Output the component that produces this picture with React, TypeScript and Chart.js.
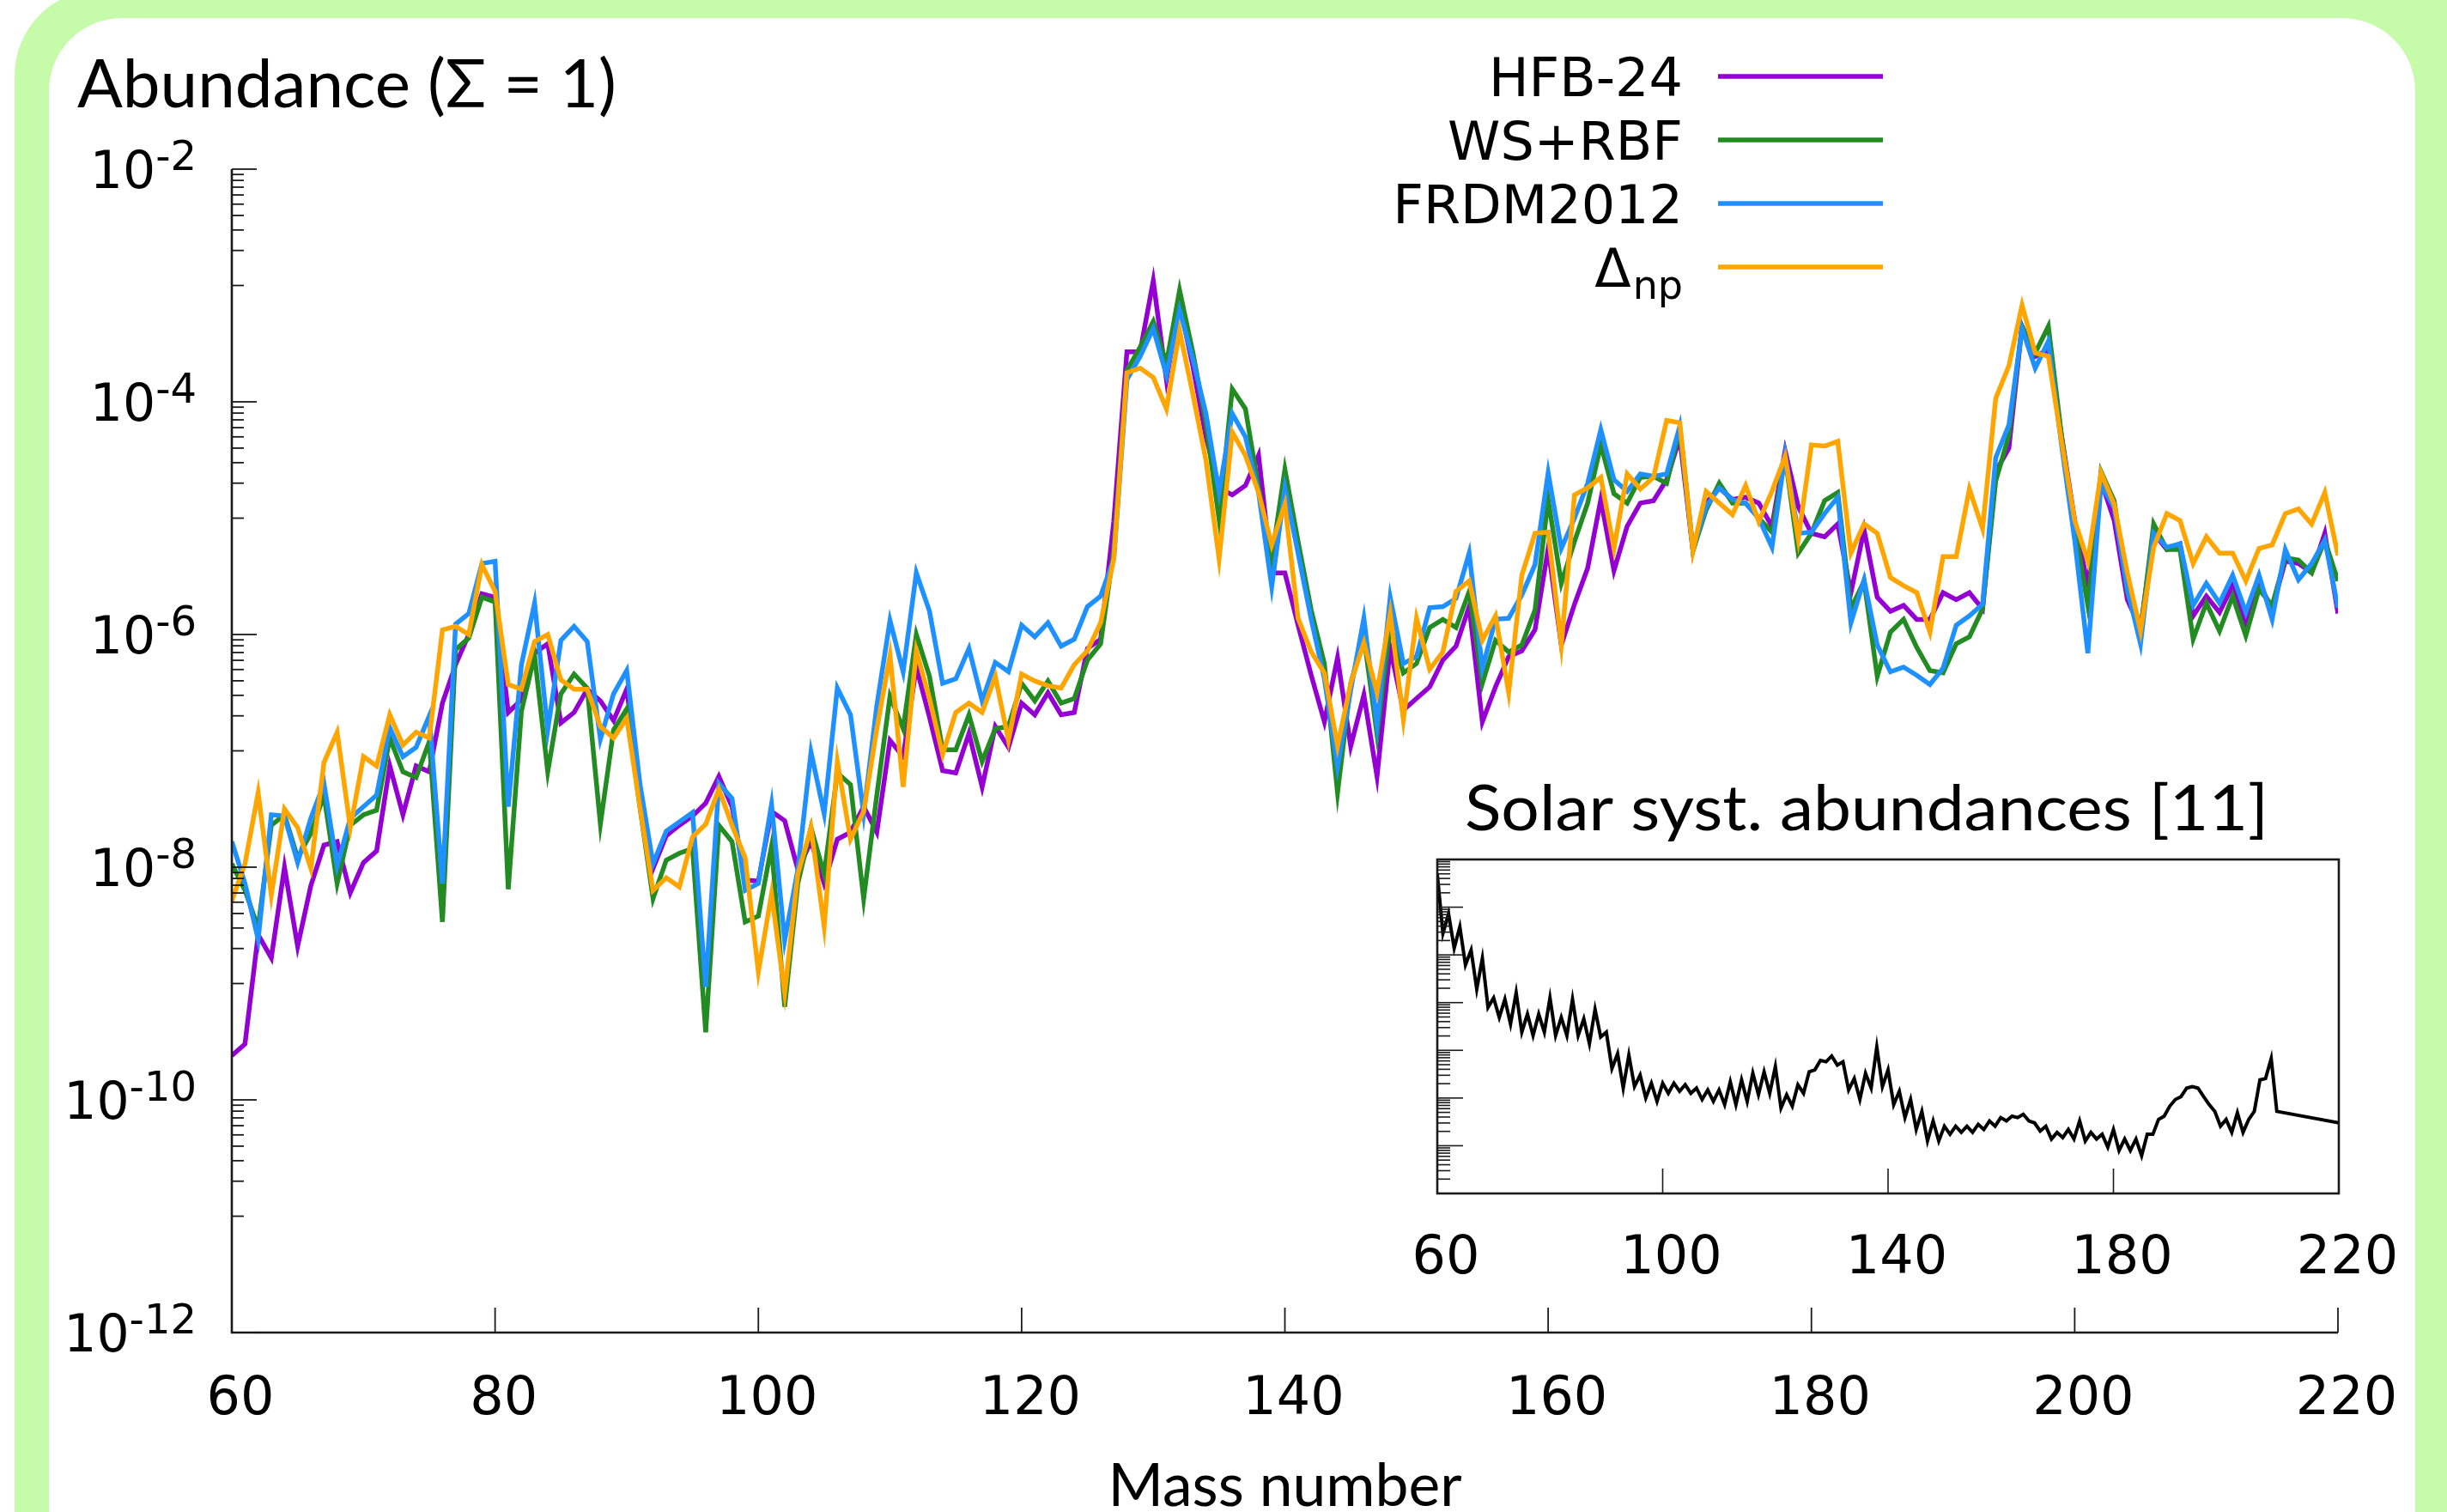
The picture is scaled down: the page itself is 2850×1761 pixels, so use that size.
import React, { useEffect, useRef } from "react";
import { Chart, registerables } from "chart.js";

Chart.register(...registerables);

// ---------------- data (log10 of abundance, mass numbers 60..220) ----------------
const A_START = 60;

const hfb24Log = [
  -9.62, -9.52, -8.58, -8.78, -8.0, -8.68, -8.16, -7.81, -7.78, -8.22,
  -7.96, -7.86, -7.13, -7.55, -7.13, -7.18, -6.59, -6.26, -6.0, -5.65,
  -5.68, -6.67, -6.56, -6.16, -6.08, -6.76, -6.67, -6.47, -6.57, -6.74,
  -6.47, -7.31, -8.01, -7.73, -7.64, -7.56, -7.45, -7.22, -7.48, -8.11,
  -8.12, -7.52, -7.6, -8.02, -7.78, -8.14, -7.76, -7.7, -7.48, -7.7,
  -6.91, -7.05, -6.28, -6.71, -7.17, -7.19, -6.85, -7.31, -6.79, -6.97,
  -6.59, -6.69, -6.5, -6.69, -6.67, -6.12, -6.04, -5.03, -3.57, -3.57,
  -2.96, -3.81, -3.16, -3.69, -4.3, -4.74, -4.8, -4.72, -4.46, -5.47,
  -5.47, -5.92, -6.35, -6.75, -6.2, -6.96, -6.52, -7.22, -6.12, -6.65,
  -6.55, -6.45, -6.22, -6.1, -5.76, -6.75, -6.45, -6.19, -6.14, -5.96,
  -5.26, -6.09, -5.74, -5.43, -4.84, -5.45, -5.07, -4.87, -4.85, -4.67,
  -4.31, -5.28, -4.87, -4.74, -4.84, -4.82, -4.87, -5.07, -4.42, -4.9,
  -5.13, -5.16, -5.05, -5.64, -5.1, -5.68, -5.8, -5.75, -5.87, -5.87,
  -5.64, -5.7, -5.64, -5.78, -4.6, -4.4, -3.35, -3.61, -3.55, -4.29,
  -5.02, -5.58, -4.68, -5.02, -5.7, -5.95, -5.13, -5.27, -5.22, -5.84,
  -5.67, -5.81, -5.58, -5.92, -5.56, -5.78, -5.37, -5.39, -5.47, -5.13,
  -5.82,
];

const wsRbfLog = [
  -7.97, -8.2, -8.52, -7.64, -7.55, -7.92, -7.71, -7.38, -8.14, -7.64,
  -7.55, -7.51, -6.89, -7.18, -7.23, -6.92, -8.47, -6.13, -6.03, -5.68,
  -5.72, -8.19, -6.66, -6.18, -7.18, -6.51, -6.34, -6.46, -7.63, -6.82,
  -6.64, -7.48, -8.27, -7.94, -7.88, -7.84, -9.42, -7.64, -7.78, -8.47,
  -8.42, -7.82, -9.2, -8.14, -7.66, -8.06, -7.19, -7.29, -8.27, -7.38,
  -6.53, -6.81, -6.0, -6.36, -6.99, -6.99, -6.69, -7.09, -6.81, -6.79,
  -6.42, -6.57, -6.4, -6.59, -6.55, -6.22, -6.08, -5.27, -3.73, -3.53,
  -3.31, -3.67, -3.04, -3.57, -4.18, -5.01, -3.89, -4.06, -4.74, -5.35,
  -4.58, -5.2, -5.79, -6.25, -7.36, -6.42, -6.02, -6.86, -5.92, -6.33,
  -6.25, -5.94, -5.87, -5.94, -5.63, -6.42, -6.05, -6.15, -6.09, -5.79,
  -4.84, -5.56, -5.2, -4.87, -4.37, -4.79, -4.87, -4.65, -4.64, -4.7,
  -4.24, -5.28, -4.93, -4.7, -4.87, -4.87, -5.0, -5.12, -4.47, -5.3,
  -5.13, -4.85, -4.78, -5.78, -5.54, -6.36, -5.98, -5.87, -6.11, -6.31,
  -6.33, -6.08, -6.02, -5.78, -4.68, -4.29, -3.35, -3.58, -3.35, -4.29,
  -5.08, -5.75, -4.6, -4.85, -5.64, -5.98, -5.05, -5.27, -5.27, -6.04,
  -5.73, -5.97, -5.67, -6.01, -5.61, -5.75, -5.34, -5.36, -5.47, -5.19,
  -5.54,
];

const frdm2012Log = [
  -7.78, -8.14, -8.62, -7.55, -7.56, -7.96, -7.58, -7.28, -7.99, -7.58,
  -7.48, -7.38, -6.8, -7.05, -6.97, -6.7, -8.14, -5.91, -5.82, -5.39,
  -5.37, -7.48, -6.26, -5.73, -6.82, -6.05, -5.93, -6.06, -6.9, -6.51,
  -6.31, -7.28, -7.97, -7.69, -7.61, -7.53, -9.03, -7.28, -7.41, -8.2,
  -8.14, -7.46, -8.63, -8.02, -7.01, -7.54, -6.46, -6.69, -7.54, -6.61,
  -5.88, -6.32, -5.47, -5.8, -6.42, -6.38, -6.12, -6.57, -6.24, -6.32,
  -5.92, -6.02, -5.9, -6.1, -6.04, -5.76, -5.67, -5.35, -3.81, -3.61,
  -3.37, -3.77, -3.21, -3.63, -4.1, -4.78, -4.1, -4.3, -4.78, -5.59,
  -4.74, -5.3, -5.87, -6.38, -7.14, -6.48, -5.86, -6.78, -5.68, -6.25,
  -6.19, -5.77, -5.76, -5.69, -5.3, -6.29, -5.87, -5.86, -5.66, -5.4,
  -4.61, -5.26, -5.0, -4.7, -4.24, -4.67, -4.77, -4.62, -4.64, -4.62,
  -4.21, -5.26, -4.9, -4.74, -4.84, -4.87, -5.0, -5.25, -4.46, -5.13,
  -5.12, -4.96, -4.82, -5.9, -5.53, -6.09, -6.32, -6.28, -6.35, -6.43,
  -6.29, -5.92, -5.84, -5.74, -4.48, -4.2, -3.37, -3.71, -3.48, -4.37,
  -5.19, -6.16, -4.71, -4.91, -5.61, -6.08, -5.13, -5.25, -5.22, -5.75,
  -5.56, -5.73, -5.49, -5.81, -5.49, -5.87, -5.27, -5.53, -5.39, -5.19,
  -5.77,
];

const deltaNpLog = [
  -8.29, -7.97, -7.36, -8.24, -7.5, -7.66, -8.01, -7.1, -6.84, -7.66,
  -7.05, -7.13, -6.69, -6.95, -6.84, -6.89, -5.96, -5.93, -6.0, -5.4,
  -5.63, -6.43, -6.47, -6.06, -6.0, -6.39, -6.47, -6.47, -6.79, -6.89,
  -6.72, -7.48, -8.2, -8.09, -8.17, -7.74, -7.63, -7.33, -7.64, -7.92,
  -8.9, -8.23, -9.08, -8.06, -7.66, -8.51, -7.09, -7.76, -7.52, -6.81,
  -6.18, -7.31, -6.14, -6.55, -7.03, -6.67, -6.59, -6.67, -6.36, -6.91,
  -6.34, -6.4, -6.44, -6.46, -6.26, -6.14, -5.9, -5.35, -3.75, -3.71,
  -3.79, -4.06, -3.39, -3.93, -4.5, -5.35, -4.26, -4.46, -4.78, -5.23,
  -4.88, -5.86, -6.15, -6.33, -6.96, -6.42, -6.07, -6.5, -5.82, -6.73,
  -5.86, -6.3, -6.15, -5.63, -5.54, -6.05, -5.84, -6.5, -5.49, -5.13,
  -5.12, -6.09, -4.8, -4.74, -4.65, -5.26, -4.62, -4.75, -4.65, -4.16,
  -4.18, -5.28, -4.77, -4.87, -4.97, -4.72, -5.03, -4.77, -4.47, -5.18,
  -4.37, -4.38, -4.34, -5.3, -5.05, -5.13, -5.51, -5.58, -5.64, -5.98,
  -5.33, -5.33, -4.75, -5.09, -3.97, -3.69, -3.17, -3.58, -3.61, -4.34,
  -5.02, -5.37, -4.61, -4.88, -5.47, -5.97, -5.25, -4.96, -5.02, -5.39,
  -5.16, -5.3, -5.3, -5.54, -5.26, -5.23, -4.96, -4.92, -5.05, -4.78,
  -5.32,
];

// Inset: solar system abundances (arbitrary log units), mass numbers 60..209, plus Th-232
const SOLAR_START = 60;
const solarLog = [
  0.69, -0.55, -0.14, -0.86, -0.41, -1.21, -0.9, -1.72, -1.07, -2.1,
  -1.9, -2.31, -1.93, -2.45, -1.79, -2.62, -2.24, -2.69, -2.24, -2.62,
  -1.9, -2.69, -2.31, -2.69, -1.93, -2.69, -2.34, -2.86, -2.14, -2.72,
  -2.62, -3.38, -3.07, -3.79, -3.1, -3.76, -3.52, -4.0, -3.69, -4.07,
  -3.69, -3.9, -3.69, -3.86, -3.72, -3.9, -3.79, -4.03, -3.83, -4.07,
  -3.83, -4.14, -3.66, -4.14, -3.62, -4.07, -3.48, -3.93, -3.45, -3.9,
  -3.34, -4.21, -3.93, -4.17, -3.72, -3.9, -3.45, -3.41, -3.21, -3.24,
  -3.12, -3.31, -3.24, -3.83, -3.59, -4.03, -3.48, -3.79, -2.93, -3.76,
  -3.41, -4.14, -3.86, -4.41, -4.03, -4.66, -4.28, -4.9, -4.48, -4.9,
  -4.59, -4.76, -4.59, -4.72, -4.59, -4.72, -4.55, -4.66, -4.48, -4.59,
  -4.41, -4.48, -4.38, -4.41, -4.34, -4.48, -4.52, -4.69, -4.59, -4.86,
  -4.72, -4.83, -4.66, -4.86, -4.48, -4.9, -4.72, -4.86, -4.76, -5.03,
  -4.66, -5.1, -4.86, -5.1, -4.86, -5.21, -4.76, -4.76, -4.45, -4.38,
  -4.17, -4.03, -3.97, -3.79, -3.76, -3.79, -3.97, -4.14, -4.28, -4.59,
  -4.45, -4.72, -4.31, -4.72, -4.45, -4.28, -3.62, -3.59, -3.17, -4.28,
];
const solarTailMass = 232;
const solarTailLog = -4.78;

// ticks / labels
const xTickValues = [60, 80, 100, 120, 140, 160, 180, 200, 220];
const yMajorExps = [-12, -10, -8, -6, -4, -2];
const yMinorExps = [-11, -9, -7, -5, -3];
const insetXTickValues = [60, 100, 140, 180, 220];
const insetDecades = [-6, -5, -4, -3, -2, -1, 0];

const seriesNames = ["HFB-24", "WS+RBF", "FRDM2012", "Δnp"];
const seriesColors = ["#9400d3", "#228b22", "#1e90ff", "#ffa500"];

// ---------------- layout ----------------
const W = 2850;
const H = 1761;
const PAD = { left: 270, top: 197, right: W - 2723, bottom: H - 1552 };
const INSET_BOX = { left: 1560, top: 860, width: 1290, height: 680 };
const INSET_PAD = { left: 114, top: 141, right: 126, bottom: 150 };

const GREEN = "#c6fbaa";
const TICK_FONT = '"DejaVu Sans", "Liberation Sans", sans-serif';
const TITLE_FONT = 'Lato, "Open Sans", "DejaVu Sans", sans-serif';

function toPoints(arr: number[], start: number) {
  return arr.map((v, i) => ({ x: start + i, y: Math.pow(10, v) }));
}

function roundRectPath(ctx: CanvasRenderingContext2D, x: number, y: number, w: number, h: number, r: number) {
  ctx.beginPath();
  ctx.moveTo(x + r, y);
  ctx.lineTo(x + w - r, y);
  ctx.arcTo(x + w, y, x + w, y + r, r);
  ctx.lineTo(x + w, y + h - r);
  ctx.arcTo(x + w, y + h, x + w - r, y + h, r);
  ctx.lineTo(x + r, y + h);
  ctx.arcTo(x, y + h, x, y + h - r, r);
  ctx.lineTo(x, y + r);
  ctx.arcTo(x, y, x + r, y, r);
  ctx.closePath();
}

function fitText(
  ctx: CanvasRenderingContext2D,
  text: string,
  x: number,
  y: number,
  font: string,
  targetWidth: number,
  align: CanvasTextAlign
) {
  ctx.save();
  ctx.font = font;
  ctx.textAlign = align;
  ctx.textBaseline = "alphabetic";
  const w = ctx.measureText(text).width;
  const s = targetWidth > 0 ? Math.max(0.85, Math.min(1.15, targetWidth / w)) : 1;
  ctx.translate(x, y);
  ctx.scale(s, 1);
  ctx.fillStyle = "#000";
  ctx.fillText(text, 0, 0);
  ctx.restore();
}

function line(ctx: CanvasRenderingContext2D, x1: number, y1: number, x2: number, y2: number) {
  ctx.beginPath();
  ctx.moveTo(x1, y1);
  ctx.lineTo(x2, y2);
  ctx.stroke();
}

const mainDecor = {
  id: "mainDecor",
  beforeDraw(chart: any) {
    const ctx: CanvasRenderingContext2D = chart.ctx;
    ctx.save();
    ctx.fillStyle = "#ffffff";
    ctx.fillRect(0, 0, W, H);
    ctx.fillStyle = GREEN;
    roundRectPath(ctx, 17, -12, W + 200, H + 300, 100);
    ctx.fill();
    ctx.fillStyle = "#ffffff";
    roundRectPath(ctx, 57, 21, 2813 - 57, H + 300, 85);
    ctx.fill();
    ctx.restore();
  },
  afterDraw(chart: any) {
    const ctx: CanvasRenderingContext2D = chart.ctx;
    const ca = chart.chartArea;
    const xs = chart.scales.x;
    const ys = chart.scales.y;
    ctx.save();
    ctx.strokeStyle = "#1a1a1a";
    ctx.lineCap = "butt";
    // axis lines
    ctx.lineWidth = 2.6;
    ctx.beginPath();
    ctx.moveTo(ca.left, ca.top);
    ctx.lineTo(ca.left, ca.bottom);
    ctx.lineTo(ca.right, ca.bottom);
    ctx.stroke();
    // x ticks (inward)
    ctx.lineWidth = 1.8;
    xTickValues.forEach((v) => {
      if (v === A_START) return;
      const px = xs.getPixelForValue(v);
      line(ctx, px, ca.bottom, px, ca.bottom - 29);
    });
    // y ticks
    yMajorExps.forEach((e) => {
      const py = ys.getPixelForValue(Math.pow(10, e));
      line(ctx, ca.left, py, ca.left + 29, py);
    });
    yMinorExps.forEach((e) => {
      for (let k = 1; k <= 9; k++) {
        const py = ys.getPixelForValue(k * Math.pow(10, e));
        line(ctx, ca.left, py, ca.left + 14, py);
      }
    });
    // x labels
    ctx.fillStyle = "#000";
    ctx.font = `62px ${TICK_FONT}`;
    ctx.textAlign = "center";
    ctx.textBaseline = "alphabetic";
    xTickValues.forEach((v) => {
      const px = xs.getPixelForValue(v);
      ctx.fillText(String(v), px + 10, 1647);
    });
    // y labels 10^e
    yMajorExps.forEach((e) => {
      const py = ys.getPixelForValue(Math.pow(10, e));
      const base = "10";
      const sup = String(e);
      ctx.font = `60px ${TICK_FONT}`;
      const wb = ctx.measureText(base).width;
      ctx.font = `48px ${TICK_FONT}`;
      const wsup = ctx.measureText(sup).width;
      const right = ca.left - 41;
      const start = right - wb - wsup;
      ctx.textAlign = "left";
      ctx.font = `60px ${TICK_FONT}`;
      ctx.fillText(base, start, py + 22);
      ctx.font = `48px ${TICK_FONT}`;
      ctx.fillText(sup, start + wb, py + 1);
    });
    // legend
    const legendY = [89, 163, 237, 311];
    seriesNames.forEach((name, i) => {
      ctx.strokeStyle = seriesColors[i];
      ctx.lineWidth = 5.5;
      line(ctx, 2001, legendY[i], 2193, legendY[i]);
      ctx.fillStyle = "#000";
      if (i < 3) {
        ctx.font = `62px ${TICK_FONT}`;
        ctx.textAlign = "right";
        ctx.fillText(name, 1960, legendY[i] + 23);
      } else {
        ctx.font = `46px ${TICK_FONT}`;
        ctx.textAlign = "right";
        const wSub = ctx.measureText("np").width;
        ctx.fillText("np", 1960, legendY[i] + 37);
        ctx.font = `62px ${TICK_FONT}`;
        ctx.fillText("Δ", 1960 - wSub - 2, legendY[i] + 23);
      }
    });
    // titles
    fitText(ctx, "Abundance (Σ = 1)", 90, 125, `78px ${TITLE_FONT}`, 628, "left");
    fitText(ctx, "Mass number", (ca.left + ca.right) / 2, 1754, `70px ${TITLE_FONT}`, 412, "center");
    ctx.restore();
  },
};

const insetDecor = {
  id: "insetDecor",
  afterDraw(chart: any) {
    const ctx: CanvasRenderingContext2D = chart.ctx;
    const ca = chart.chartArea;
    const xs = chart.scales.x;
    const ys = chart.scales.y;
    ctx.save();
    ctx.strokeStyle = "#1a1a1a";
    ctx.lineWidth = 2.6;
    ctx.strokeRect(ca.left, ca.top, ca.right - ca.left, ca.bottom - ca.top);
    ctx.lineWidth = 1.6;
    insetXTickValues.forEach((v) => {
      if (v === 60 || v === 220) return;
      const px = xs.getPixelForValue(v);
      line(ctx, px, ca.bottom, px, ca.bottom - 29);
    });
    insetDecades.forEach((e) => {
      if (e > -6) {
        const py = ys.getPixelForValue(Math.pow(10, e));
        line(ctx, ca.left, py, ca.left + 30, py);
      }
      for (let k = 2; k <= 9; k++) {
        const py = ys.getPixelForValue(k * Math.pow(10, e));
        line(ctx, ca.left, py, ca.left + 15, py);
      }
    });
    ctx.fillStyle = "#000";
    ctx.font = `62px ${TICK_FONT}`;
    ctx.textAlign = "center";
    ctx.textBaseline = "alphabetic";
    insetXTickValues.forEach((v) => {
      const px = xs.getPixelForValue(v);
      ctx.fillText(String(v), px + 10, 623);
    });
    fitText(ctx, "Solar syst. abundances [11]", 146, 107, `74px ${TITLE_FONT}`, 936, "left");
    ctx.restore();
  },
};

export default function App() {
  const mainRef = useRef<HTMLCanvasElement>(null);
  const insetRef = useRef<HTMLCanvasElement>(null);

  useEffect(() => {
    const seriesLogs = [hfb24Log, wsRbfLog, frdm2012Log, deltaNpLog];
    const main = new Chart(mainRef.current as HTMLCanvasElement, {
      type: "line",
      data: {
        datasets: seriesLogs.map((arr, i) => ({
          label: seriesNames[i],
          data: toPoints(arr, A_START),
          borderColor: seriesColors[i],
          backgroundColor: seriesColors[i],
          borderWidth: 5.5,
          pointRadius: 0,
          tension: 0,
          fill: false,
          borderJoinStyle: "miter" as CanvasLineJoin,
          order: 3 - i,
        })),
      },
      options: {
        animation: false,
        responsive: false,
        devicePixelRatio: 1,
        events: [],
        layout: { padding: PAD },
        plugins: { legend: { display: false }, tooltip: { enabled: false }, title: { display: false } },
        scales: {
          x: { type: "linear", min: 60, max: 220, display: false },
          y: { type: "logarithmic", min: 1e-12, max: 1e-2, display: false },
        },
      },
      plugins: [mainDecor],
    } as any);

    const solarPoints = toPoints(solarLog, SOLAR_START).concat([
      { x: solarTailMass, y: Math.pow(10, solarTailLog) },
    ]);
    const inset = new Chart(insetRef.current as HTMLCanvasElement, {
      type: "line",
      data: {
        datasets: [
          {
            label: "Solar",
            data: solarPoints,
            borderColor: "#000000",
            borderWidth: 4,
            pointRadius: 0,
            tension: 0,
            fill: false,
            borderJoinStyle: "miter" as CanvasLineJoin,
          },
        ],
      },
      options: {
        animation: false,
        responsive: false,
        devicePixelRatio: 1,
        events: [],
        layout: { padding: INSET_PAD },
        plugins: { legend: { display: false }, tooltip: { enabled: false } },
        scales: {
          x: { type: "linear", min: 60, max: 220, display: false },
          y: { type: "logarithmic", min: 1e-6, max: 1e1, display: false },
        },
      },
      plugins: [insetDecor],
    } as any);

    return () => {
      main.destroy();
      inset.destroy();
    };
  }, []);

  return (
    <div style={{ position: "fixed", left: 0, top: 0, width: W, height: H, overflow: "hidden", background: "#fff" }}>
      <canvas
        ref={mainRef}
        width={W}
        height={H}
        style={{ position: "absolute", left: 0, top: 0, width: W, height: H }}
      />
      <canvas
        ref={insetRef}
        width={INSET_BOX.width}
        height={INSET_BOX.height}
        style={{
          position: "absolute",
          left: INSET_BOX.left,
          top: INSET_BOX.top,
          width: INSET_BOX.width,
          height: INSET_BOX.height,
        }}
      />
    </div>
  );
}
